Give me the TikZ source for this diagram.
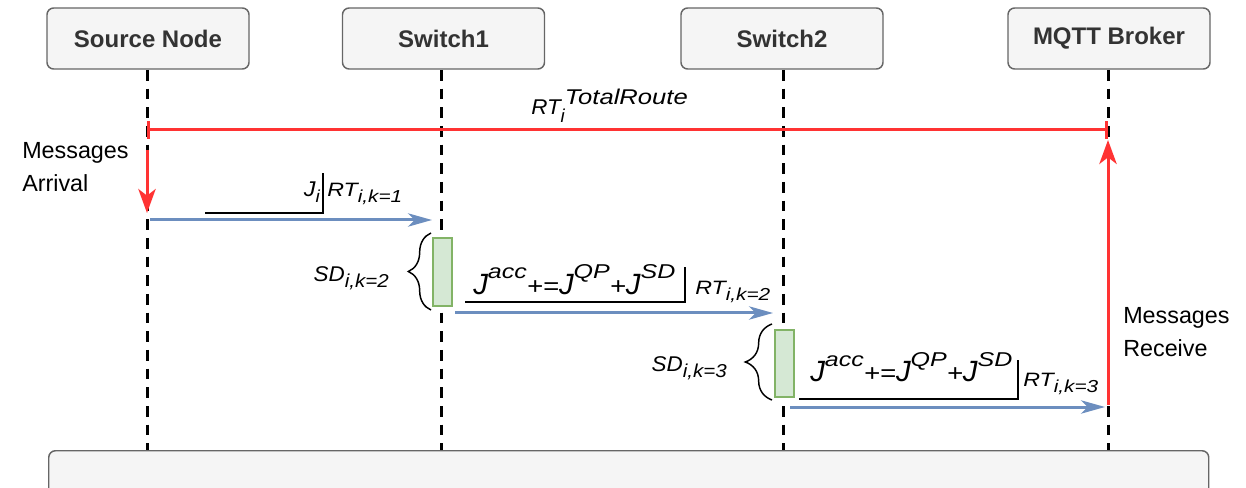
\documentclass[tikz,border=0pt]{standalone}
\usepackage{fontspec}
\setmainfont{Liberation Sans}
\usetikzlibrary{arrows.meta,decorations.pathreplacing}

\definecolor{hdrfill}{HTML}{F5F5F5}
\definecolor{hdrline}{HTML}{666666}
\definecolor{hdrtext}{HTML}{333333}
\definecolor{routered}{HTML}{FF3333}
\definecolor{msgblue}{HTML}{6C8EBF}
\definecolor{actfill}{HTML}{D5E8D4}
\definecolor{actline}{HTML}{82B366}

% text at a given size, stretched horizontally
\newcommand\wtxt[3]{\scalebox{#1}[1]{\fontsize{#2}{#2}\selectfont #3}}
% raised / lowered script text: shift, stretch, size, text
\newcommand\shifted[4]{\raisebox{#1}{\wtxt{#2}{#3}{#4}}}
% accumulated jitter formula
\newcommand\jaccformula{%
  \wtxt{1}{22pt}{J}\shifted{12pt}{1.25}{15pt}{acc}%
  \wtxt{1.15}{18pt}{+=}%
  \wtxt{1}{22pt}{J}\shifted{12pt}{1.25}{15pt}{QP}%
  \wtxt{1.15}{18pt}{+}%
  \wtxt{1}{22pt}{J}\shifted{12pt}{1.25}{15pt}{SD}}
\newcommand\rtk[1]{\wtxt{1.2}{14.5pt}{RT}\shifted{-4.5pt}{1.2}{13pt}{i,k=#1}}
\newcommand\sdk[1]{\wtxt{1.05}{16pt}{SD}\shifted{-4.5pt}{1.1}{14pt}{i,k=#1}}

\tikzset{
  header/.style={draw=hdrline, fill=hdrfill, line width=1.1pt, rounded corners=5pt,
    minimum width=151.5pt, minimum height=45.75pt, inner sep=0pt,
    text=hdrtext, font=\bfseries\fontsize{18pt}{20pt}\selectfont},
  bus/.style={draw=hdrline, fill=hdrfill, line width=1.1pt, rounded corners=5pt,
    minimum width=870pt, minimum height=45pt, inner sep=0pt},
  lifeline/.style={line width=2.25pt, dash pattern=on 8pt off 6pt},
  route/.style={draw=routered, line width=2.25pt},
  routetip/.style={-{Stealth[length=18pt, width=13pt, inset=5pt]}},
  msg/.style={draw=msgblue, line width=2.25pt, -{Stealth[length=18pt, width=10pt, inset=5pt]}},
  activation/.style={draw=actline, fill=actfill, line width=1.1pt, minimum width=14.25pt,
    inner sep=0pt},
  span/.style={draw=black, line width=1.1pt, decorate},
  tag/.style={draw=black, line width=1.1pt},
  italiclabel/.style={inner sep=0pt, font=\itshape},
  note/.style={inner sep=0pt, align=left, font=\fontsize{17.5pt}{24.75pt}\selectfont},
}

\begin{document}
\begin{tikzpicture}[x=0.75pt, y=-0.75pt]
\useasboundingbox (0,0) rectangle (1246,488);

% participants
\node[header] (src)  at (148,38.5)  {Source Node};
\node[header] (sw1)  at (443.5,38.5) {Switch1};
\node[header] (sw2)  at (782,38.5)  {Switch2};
\node[header] (mqtt) at (1109,38.5) {MQTT Broker};
\node[bus, anchor=north west] (bus) at (48,450) {};

% lifelines
\foreach \p/\x in {src/147, sw1/441, sw2/783, mqtt/1108}{
  \coordinate (\p top) at (\x,70);
  \coordinate (\p bot) at (\x,450);
  \draw[lifeline] (\p top) -- (\p bot);
}

% total route time
\coordinate (rtL) at (147,130);
\coordinate (rtR) at (1108,130);
\draw[route, {Bar[width=13pt]}-{Bar[width=13pt]}] (rtL) -- (rtR);
\node[italiclabel, anchor=base west] (rttot) at (531,115)
  {\wtxt{1.05}{16pt}{RT}\shifted{-6pt}{1}{14pt}{i}\shifted{7.5pt}{1.2}{16pt}{TotalRoute}};

% arrival and reception
\coordinate (arrS) at (147,150);
\coordinate (arrE) at (147,213);
\draw[route, routetip] (arrS) -- (arrE);
\node[note, anchor=base west] (arrival) at (22,192) {Messages\\Arrival};

\coordinate (recS) at (1108,405);
\coordinate (recE) at (1108,140);
\draw[route, routetip] (recS) -- (recE);
\node[note, anchor=base west] (receive) at (1123,357) {Messages\\Receive};

% hop 1: source -> switch1
\coordinate (h1s) at (150,220);
\coordinate (h1e) at (432,220);
\draw[msg] (h1s) -- (h1e);
\coordinate (t1a) at (205,213);
\coordinate (t1b) at (323,213);
\coordinate (t1c) at (323,173);
\draw[tag] (t1a) -- (t1b) -- (t1c);
\node[italiclabel, anchor=base east] (j1) at (320,197)
  {\wtxt{1.1}{16pt}{J}\shifted{-4.5pt}{1.1}{13pt}{i}};
\node[italiclabel, anchor=base west] (rt1) at (327,197) {\rtk{1}};

% switch1 service
\node[activation, minimum height=51pt] (act1) at (442.5,272) {};
\coordinate (b1lo) at (431,310);
\coordinate (b1hi) at (431,233);
\draw[span, decoration={brace, amplitude=17pt}] (b1lo) -- (b1hi);
\node[italiclabel, anchor=base east] (sd2) at (389,282) {\sdk{2}};

% hop 2: switch1 -> switch2
\coordinate (h2s) at (455,313);
\coordinate (h2e) at (773,313);
\draw[msg] (h2s) -- (h2e);
\coordinate (t2a) at (465,302);
\coordinate (t2b) at (685,302);
\coordinate (t2c) at (685,267);
\draw[tag] (t2a) -- (t2b) -- (t2c);
\node[italiclabel, anchor=base west] (jacc2) at (473,295) {\jaccformula};
\node[italiclabel, anchor=base west] (rt2) at (695,295) {\rtk{2}};

% switch2 service
\node[activation, minimum height=50.25pt] (act2) at (784.5,363.5) {};
\coordinate (b2lo) at (772,400);
\coordinate (b2hi) at (772,324);
\draw[span, decoration={brace, amplitude=20pt}] (b2lo) -- (b2hi);
\node[italiclabel, anchor=base east] (sd3) at (727,372) {\sdk{3}};

% hop 3: switch2 -> broker
\coordinate (h3s) at (790,407);
\coordinate (h3e) at (1105,407);
\draw[msg] (h3s) -- (h3e);
\coordinate (t3a) at (799,399);
\coordinate (t3b) at (1018,399);
\coordinate (t3c) at (1018,360);
\draw[tag] (t3a) -- (t3b) -- (t3c);
\node[italiclabel, anchor=base west] (jacc3) at (810,382) {\jaccformula};
\node[italiclabel, anchor=base west] (rt3) at (1023,387) {\rtk{3}};
\end{tikzpicture}
\end{document}
